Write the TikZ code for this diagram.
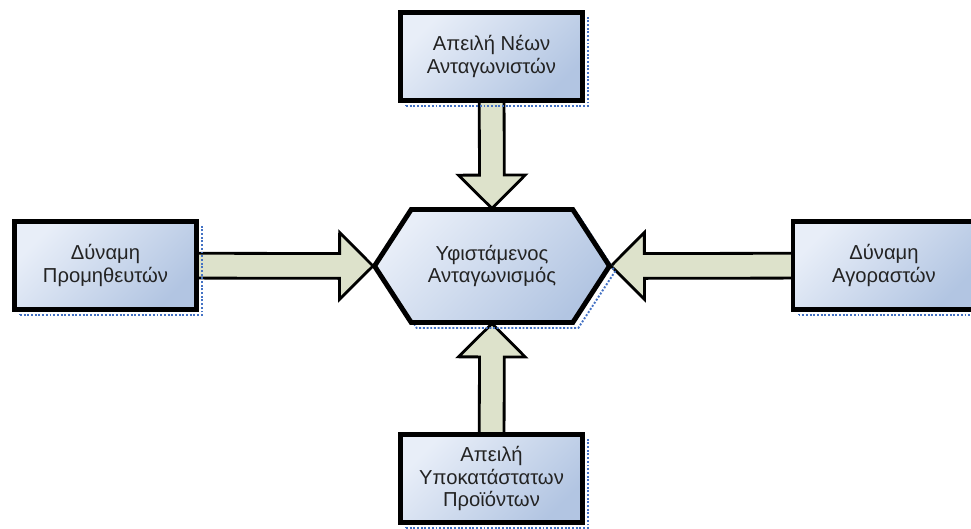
\documentclass[tikz,border=0pt]{standalone}
\usepackage{fontspec}
\setmainfont{Liberation Sans}
\usetikzlibrary{positioning,shapes.symbols,shapes.arrows,backgrounds,calc}
\definecolor{pfLight}{RGB}{232,238,248}
\definecolor{pfDark}{RGB}{178,197,226}
\definecolor{pfArrow}{RGB}{221,226,203}
\definecolor{pfDots}{RGB}{68,114,196}
\definecolor{pfText}{RGB}{35,35,35}
\tikzset{
    base/.style={font=\fontsize{11.5}{13}\selectfont, align=center, text=pfText},
    selection/.style={preaction={draw=pfDots, densely dotted, line width=1.1pt,
                      transform canvas={shift={(0.11cm,-0.11cm)}}}},
    force/.style={base, rectangle, draw=black, line width=2.8pt,
                  top color=pfLight, bottom color=pfDark, shading angle=45,
                  minimum width=3.64cm, minimum height=1.76cm, selection},
    rival/.style={base, signal, signal to=west and east, signal pointer angle=114,
                  draw=black, line width=2.8pt,
                  top color=pfLight, bottom color=pfDark, shading angle=45,
                  minimum width=4.7cm, minimum height=2.26cm, selection},
    pressure/.style={single arrow, draw=black, line width=1.6pt, fill=pfArrow,
                     inner xsep=0pt, inner ysep=0.22cm, single arrow head extend=0.42cm,
                     single arrow tip angle=90, anchor=tail}
}
% block arrow from the centre of one node to the border of another
\newcommand{\forcearrow}[2]{%
  \path let \p1=(#1), \p2=(#2),
    \n1={veclen(\x2-\x1,\y2-\y1)}, \n2={atan2(\y2-\y1,\x2-\x1)} in
    node[pressure, minimum height=\n1, rotate=\n2] at (\p1) {};
}
\begin{document}
\begin{tikzpicture}[x=0.02cm, y=-0.02cm]
  \useasboundingbox (0,0) rectangle (971,528);

  % Central rivalry
  \node[rival] (rivalry) at (492,266) {Υφιστάμενος\\Ανταγωνισμός};

  % The four outer forces
  \node[force] (entrants) at (491.5,56.5) {Απειλή Νέων\\Ανταγωνιστών};
  \node[force] (suppliers) at (105.5,265.5) {Δύναμη\\Προμηθευτών};
  \node[force] (buyers) at (884,265.5) {Δύναμη\\Αγοραστών};
  \node[force] (substitutes) at (491.5,478.5) {Απειλή\\Υποκατάστατων\\Προϊόντων};

  % Block arrows
  \begin{scope}[on background layer]
    \fill[white] (0,0) rectangle (971,528);
    \forcearrow{entrants.center}{rivalry.north}
    \forcearrow{suppliers.center}{rivalry.west}
    \forcearrow{buyers.center}{rivalry.east}
    \forcearrow{substitutes.center}{rivalry.south}
  \end{scope}
\end{tikzpicture}
\end{document}
